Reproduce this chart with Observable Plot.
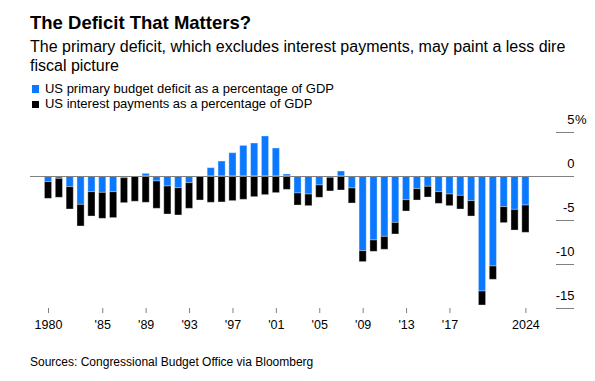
<!DOCTYPE html>
<html>
<head>
<meta charset="utf-8">
<script src="https://cdn.jsdelivr.net/npm/d3@7"></script>
<script src="https://cdn.jsdelivr.net/npm/@observablehq/plot@0.6"></script>
<style>
  html, body { margin: 0; padding: 0; background: #fff; }
  body { width: 595px; height: 381px; position: relative; overflow: hidden;
         font-family: "Liberation Sans", Arial, sans-serif; color: #000; }
  .abs { position: absolute; left: 30px; white-space: nowrap; }
  #title { top: 11.9px; font-size: 18.5px; line-height: 22px; font-weight: bold; }
  #subtitle { top: 37.3px; font-size: 16px; line-height: 19px; white-space: normal; width: 560px; }
  #legend { top: 81.1px; font-size: 13px; line-height: 15.4px; }
  .item { display: flex; align-items: center; height: 15.4px; }
  .sw { width: 7.7px; height: 7.7px; margin-left: 1.7px; margin-right: 5.6px; margin-top: 0.6px; }
  #chart { position: absolute; left: 0; top: 112px; }
  #source { top: 354.5px; font-size: 12px; line-height: 14px; }
</style>
</head>
<body>
<div id="title" class="abs">The Deficit That Matters?</div>
<div id="subtitle" class="abs">The primary deficit, which excludes interest payments, may paint a less dire fiscal picture</div>
<div id="legend" class="abs"></div>
<div id="chart"></div>
<div id="source" class="abs">Sources: Congressional Budget Office via Bloomberg</div>
<script>
const years = [1980,1981,1982,1983,1984,1985,1986,1987,1988,1989,
               1990,1991,1992,1993,1994,1995,1996,1997,1998,1999,
               2000,2001,2002,2003,2004,2005,2006,2007,2008,2009,
               2010,2011,2012,2013,2014,2015,2016,2017,2018,2019,
               2020,2021,2022,2023,2024];
// primary budget balance, % of GDP (negative = deficit)
const primary = [-0.64,-0.27,-1.21,-3.22,-1.78,-1.86,-1.78,-0.19,0,0.30,
                 -0.57,-1.14,-1.33,-0.76,0,0.95,1.70,2.65,3.48,3.75,
                 4.55,3.18,0.23,-1.93,-2.05,-1.02,-0.15,0.57,-1.36,-8.48,
                 -7.27,-6.86,-5.27,-2.69,-1.44,-1.17,-1.78,-2.05,-2.20,-2.80,
                 -13.07,-10.23,-3.48,-3.79,-3.30];
// net interest payments, % of GDP
const interest = [1.90,2.15,2.54,2.46,2.77,2.95,2.95,2.84,2.87,2.99,
                  3.10,3.18,3.10,2.91,2.73,2.99,2.95,2.80,2.65,2.35,
                  2.12,1.89,1.52,1.37,1.32,1.40,1.55,1.59,1.71,1.25,
                  1.29,1.47,1.32,1.29,1.29,1.22,1.33,1.32,1.55,1.75,
                  1.59,1.51,1.82,2.35,3.10];
const seriesNames = ["US primary budget deficit as a percentage of GDP",
                     "US interest payments as a percentage of GDP"];
const seriesColors = ["#0a78ff", "#000000"];
const xTickYears = [1980,1985,1989,1993,1997,2001,2005,2009,2013,2017,2024];
const xTickLabels = ["1980","'85","'89","'93","'97","'01","'05","'09","'13","'17","2024"];
const yTicks = [5,0,-5,-10,-15];
const yTickLabels = ["5","0","-5","-10","-15"];

// legend
const legend = document.getElementById("legend");
seriesNames.forEach((n, i) => {
  const row = document.createElement("div");
  row.className = "item";
  row.innerHTML = `<span class="sw" style="background:${seriesColors[i]}"></span><span>${n}</span>`;
  legend.appendChild(row);
});

const rows = years.map((year, i) => ({year, primary: primary[i], interest: interest[i]}));
const blue = rows.filter(d => d.primary !== 0).map(d => ({year: d.year, y1: 0, y2: d.primary}));
const black = rows.map(d => {
  const base = d.primary < 0 ? d.primary : 0;
  return {year: d.year, y1: base, y2: base - d.interest};
});

const W = 595, H = 232, ML = 30, MR = 21, MT = 20, MB = 36;
const half = 0.33;
const tickLen = 18;

const chart = Plot.plot({
  width: W, height: H,
  marginLeft: ML, marginRight: MR, marginTop: MT, marginBottom: MB,
  style: {fontFamily: "'Liberation Sans', Arial, sans-serif", color: "#000", background: "transparent"},
  x: {type: "linear", domain: [1978.34, 2028.48]},
  y: {domain: [-15, 5], axis: null},
  marks: [
    Plot.rectY(blue, {x1: d => d.year - half, x2: d => d.year + half, y1: "y1", y2: "y2",
      fill: seriesColors[0], stroke: "#fff", strokeOpacity: 0.35, strokeWidth: 1}),
    Plot.rectY(black, {x1: d => d.year - half, x2: d => d.year + half, y1: "y1", y2: "y2",
      fill: seriesColors[1], stroke: "#fff", strokeOpacity: 0.35, strokeWidth: 1}),
    Plot.ruleY(yTicks.filter(v => v !== 0), {y: d => d, stroke: "#808080", strokeWidth: 1,
      insetLeft: W - ML - MR - tickLen}),
    Plot.ruleY([0], {stroke: "#808080", strokeWidth: 1}),
    Plot.text(yTicks, {y: d => d, frameAnchor: "right", textAnchor: "end",
      text: (d, i) => yTickLabels[i], dy: -12.5, fontSize: 13, fill: "#000"}),
    Plot.text([5], {y: d => d, frameAnchor: "right", textAnchor: "start",
      text: () => "%", dx: 0.5, dy: -12.5, fontSize: 13, fill: "#000"}),
    Plot.axisX({ticks: xTickYears, tickFormat: d => xTickLabels[xTickYears.indexOf(d)],
      tickSize: 5, tickPadding: 7, fontSize: 12.5, stroke: "#808080", fill: "#000", label: null})
  ]
});
document.getElementById("chart").appendChild(chart);
</script>
</body>
</html>
